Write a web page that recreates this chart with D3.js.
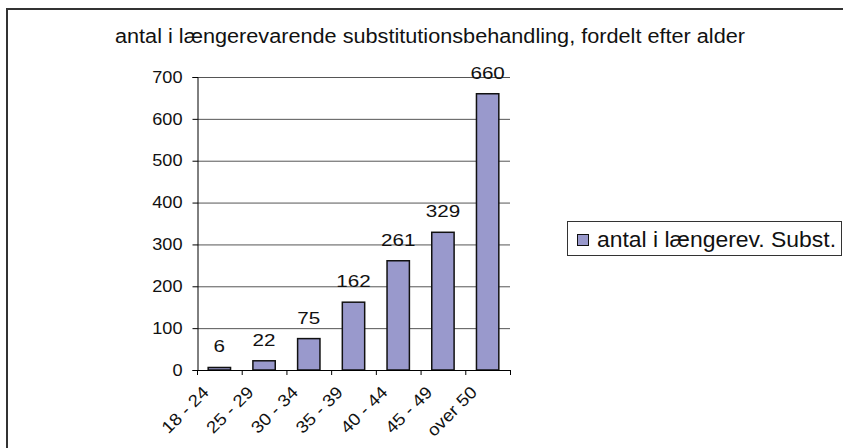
<!DOCTYPE html>
<html>
<head>
<meta charset="utf-8">
<script src="https://cdn.jsdelivr.net/npm/d3@7"></script>
<style>
  body { margin: 0; background: #fff; }
  svg { display: block; font-family: "Liberation Sans", Arial, sans-serif; }
</style>
</head>
<body>
<svg id="chart" width="843" height="448"></svg>
<script>

// chart data
const categories = ["18 - 24", "25 - 29", "30 - 34", "35 - 39", "40 - 44", "45 - 49", "over 50"];
const values = [6, 22, 75, 162, 261, 329, 660];
const yTicks = [0, 100, 200, 300, 400, 500, 600, 700];
const chartTitle = "antal i længerevarende substitutionsbehandling, fordelt efter alder";
const seriesName = "antal i længerev. Subst.";


const svg = d3.select("#chart");

// the source picture is a bit wider than it is tall, so widen the glyphs
function _stretch(sel, factor) {
  sel.each(function() {
    var len = this.getComputedTextLength();
    d3.select(this)
      .attr("textLength", len * factor)
      .attr("lengthAdjust", "spacingAndGlyphs");
  });
}

// outer frame, runs off the right and bottom edge
svg.append("rect")
  .attr("x", 7).attr("y", 9)
  .attr("width", 860).attr("height", 460)
  .attr("fill", "none")
  .attr("stroke", "#333")
  .attr("stroke-width", 2);

const plot = { left: 197, right: 510, top: 77, bottom: 370 };

const x = d3.scaleBand()
  .domain(categories)
  .range([plot.left, plot.right])
  .paddingInner(0)
  .paddingOuter(0);

const y = d3.scaleLinear()
  .domain([0, 700])
  .range([plot.bottom, plot.top]);

// title
svg.append("text")
  .attr("x", 430).attr("y", 43)
  .attr("text-anchor", "middle")
  .attr("font-size", 20)
  .attr("textLength", 630)
  .attr("lengthAdjust", "spacingAndGlyphs")
  .attr("fill", "#111")
  .text(chartTitle);

// gridlines
svg.append("g")
  .selectAll("line")
  .data(yTicks.filter(d => d > 0))
  .enter().append("line")
  .attr("x1", plot.left).attr("x2", plot.right)
  .attr("y1", d => y(d) + 0.5).attr("y2", d => y(d) + 0.5)
  .attr("stroke", "#555")
  .attr("stroke-width", 1);

// y axis
const yAxis = svg.append("g")
  .attr("transform", "translate(" + (plot.left + 0.5) + ",0)")
  .call(d3.axisLeft(y).tickValues(yTicks).tickSize(5).tickPadding(10));
yAxis.select(".domain").attr("stroke", "#000");
yAxis.selectAll(".tick line").attr("stroke", "#000");
yAxis.selectAll(".tick text")
  .attr("font-size", 16.5)
  .attr("font-family", "Liberation Sans, Arial, sans-serif")
  .attr("fill", "#111")
  .call(_stretch, 1.1);

// bars
svg.append("g")
  .selectAll("rect")
  .data(values)
  .enter().append("rect")
  .attr("x", (d, i) => x(categories[i]) + x.bandwidth() * 0.25)
  .attr("y", d => y(d))
  .attr("width", x.bandwidth() * 0.5)
  .attr("height", d => y(0) - y(d))
  .attr("fill", "#9999cc")
  .attr("stroke", "#111")
  .attr("stroke-width", 1.5);

// value labels
svg.append("g")
  .selectAll("text")
  .data(values)
  .enter().append("text")
  .attr("x", (d, i) => x(categories[i]) + x.bandwidth() / 2)
  .attr("y", d => y(d) - 15)
  .attr("text-anchor", "middle")
  .attr("font-size", 16.5)
  .attr("fill", "#111")
  .text(d => d)
  .call(_stretch, 1.25);

// x axis line with boundary ticks
const xg = svg.append("g");
xg.append("line")
  .attr("x1", plot.left).attr("x2", plot.right)
  .attr("y1", plot.bottom + 0.5).attr("y2", plot.bottom + 0.5)
  .attr("stroke", "#000");
xg.selectAll("line.tk")
  .data(categories.concat([null]))
  .enter().append("line")
  .attr("class", "tk")
  .attr("x1", (d, i) => plot.left + i * x.step() + 0.5)
  .attr("x2", (d, i) => plot.left + i * x.step() + 0.5)
  .attr("y1", plot.bottom).attr("y2", plot.bottom + 5)
  .attr("stroke", "#000");

// rotated category labels
xg.selectAll("text")
  .data(categories)
  .enter().append("text")
  .attr("transform", d => "translate(" + (x(d) + x.bandwidth() / 2 - 18) + "," + (plot.bottom + 15) + ") rotate(-45)")
  .attr("text-anchor", "end")
  .attr("dy", "0.7em")
  .attr("font-size", 17)
  .attr("fill", "#111")
  .text(d => d)
  .call(_stretch, 1.1);

// legend
const legend = svg.append("g");
legend.append("rect")
  .attr("x", 567.5).attr("y", 221.5)
  .attr("width", 274).attr("height", 34)
  .attr("fill", "#fff")
  .attr("stroke", "#333");
legend.append("rect")
  .attr("x", 577.5).attr("y", 234.5)
  .attr("width", 11).attr("height", 11)
  .attr("fill", "#9999cc")
  .attr("stroke", "#111");
legend.append("text")
  .attr("x", 597).attr("y", 247)
  .attr("font-size", 21.5)
  .attr("textLength", 239)
  .attr("lengthAdjust", "spacingAndGlyphs")
  .attr("fill", "#111")
  .text(seriesName);

</script>
</body>
</html>
